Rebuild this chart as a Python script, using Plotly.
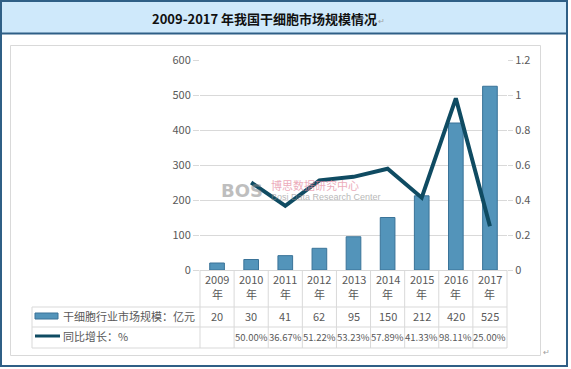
import plotly.graph_objects as go

# ---------------- data ----------------
years = ["2009", "2010", "2011", "2012", "2013", "2014", "2015", "2016", "2017"]
year_suffix = "年"
market_size = [20, 30, 41, 62, 95, 150, 212, 420, 525]          # 亿元
growth_pct = [None, 50.00, 36.67, 51.22, 53.23, 57.89, 41.33, 98.11, 25.00]  # %
bar_name = "干细胞行业市场规模：亿元"
line_name = "同比增长：%"
title_text = "2009-2017 年我国干细胞市场规模情况"

# ---------------- geometry helpers ----------------
W, H = 571, 369
L, R, T, B = 200, 507, 60, 270   # plot area in px


def px(x):
    return (x - L) / (R - L)


def py(y):
    return (B - y) / (B - T)


GREY_TXT = "#595959"
GRID = "#d9d9d9"
FONT = "Noto Sans CJK SC, Lato, sans-serif"

growth_ratio = [None if g is None else g / 100 for g in growth_pct]
growth_lbl = ["" if g is None else f"{g:.2f}%" for g in growth_pct]

fig = go.Figure()
fig.add_trace(go.Bar(
    x=years, y=market_size, name=bar_name,
    marker=dict(color="#5394ba", line=dict(color="#3a7398", width=1)),
    showlegend=False, hoverinfo="skip",
))
fig.add_trace(go.Scatter(
    x=years, y=growth_ratio, name=line_name, yaxis="y2", mode="lines",
    line=dict(color="#0f4b62", width=4), connectgaps=False,
    showlegend=False, hoverinfo="skip",
))

shapes = []
# outer frame + title band
shapes.append(dict(type="rect", xref="paper", yref="paper", layer="below",
                   x0=px(1), x1=px(567), y0=py(2), y1=py(33),
                   fillcolor="#cfe9fb", line=dict(width=0)))
shapes.append(dict(type="line", xref="paper", yref="paper", layer="below",
                   x0=px(1), x1=px(567), y0=py(33.5), y1=py(33.5),
                   line=dict(color="#2f5f86", width=2)))
shapes.append(dict(type="rect", xref="paper", yref="paper", layer="below",
                   x0=px(1), x1=px(567), y0=py(1), y1=py(366),
                   line=dict(color="#2f5f86", width=2)))
# inner chart frame
shapes.append(dict(type="rect", xref="paper", yref="paper", layer="below",
                   x0=px(10.5), x1=px(540.5), y0=py(45.5), y1=py(355.5),
                   line=dict(color=GRID, width=1)))

# data table grid
n = len(years)
row_tops = [270, 307, 327, 348]
for i in range(n + 1):
    xb = L + (R - L) * i / n
    shapes.append(dict(type="line", xref="paper", yref="paper",
                       x0=px(xb), x1=px(xb), y0=py(270), y1=py(348),
                       line=dict(color=GRID, width=1)))
for yb in row_tops[1:]:
    shapes.append(dict(type="line", xref="paper", yref="paper",
                       x0=px(32), x1=px(R), y0=py(yb), y1=py(yb),
                       line=dict(color=GRID, width=1)))
shapes.append(dict(type="line", xref="paper", yref="paper",
                   x0=px(32), x1=px(32), y0=py(307), y1=py(348),
                   line=dict(color=GRID, width=1)))
# legend swatches
shapes.append(dict(type="rect", xref="paper", yref="paper",
                   x0=px(35), x1=px(58), y0=py(313), y1=py(319),
                   fillcolor="#5394ba", line=dict(color="#3a7398", width=1)))
shapes.append(dict(type="line", xref="paper", yref="paper",
                   x0=px(35), x1=px(60), y0=py(336), y1=py(336),
                   line=dict(color="#0f4b62", width=3)))

annotations = []
# title
annotations.append(dict(xref="paper", yref="paper", x=px(264), y=py(18),
                        text="<b>" + title_text + "</b>", showarrow=False,
                        font=dict(family=FONT, size=13, color="#111111"),
                        xanchor="center", yanchor="middle"))
annotations.append(dict(xref="paper", yref="paper", x=px(376), y=py(20),
                        text="↵", showarrow=False,
                        font=dict(family=FONT, size=8, color="#a0a0a0"),
                        xanchor="left", yanchor="middle"))
annotations.append(dict(xref="paper", yref="paper", x=px(541), y=py(351),
                        text="↵", showarrow=False,
                        font=dict(family=FONT, size=8, color="#a0a0a0"),
                        xanchor="left", yanchor="middle"))
# legend labels
annotations.append(dict(xref="paper", yref="paper", x=px(61), y=py(316),
                        text=bar_name, showarrow=False,
                        font=dict(family=FONT, size=11, color=GREY_TXT),
                        xanchor="left", yanchor="middle"))
annotations.append(dict(xref="paper", yref="paper", x=px(61), y=py(336),
                        text=line_name, showarrow=False,
                        font=dict(family=FONT, size=11, color=GREY_TXT),
                        xanchor="left", yanchor="middle"))
# table header + values (x given as category index)
for i, (yr, v, g) in enumerate(zip(years, market_size, growth_lbl)):
    annotations.append(dict(xref="x", yref="paper", x=i, y=py(279),
                            text=yr, showarrow=False,
                            font=dict(family=FONT, size=11, color=GREY_TXT),
                            xanchor="center", yanchor="middle"))
    annotations.append(dict(xref="x", yref="paper", x=i, y=py(294),
                            text=year_suffix, showarrow=False,
                            font=dict(family=FONT, size=11, color=GREY_TXT),
                            xanchor="center", yanchor="middle"))
    annotations.append(dict(xref="x", yref="paper", x=i, y=py(316),
                            text=str(v), showarrow=False,
                            font=dict(family=FONT, size=11, color=GREY_TXT),
                            xanchor="center", yanchor="middle"))
    if g:
        annotations.append(dict(xref="x", yref="paper", x=i, y=py(337),
                                text=g, showarrow=False,
                                font=dict(family=FONT, size=9.5, color=GREY_TXT),
                                xanchor="center", yanchor="middle"))
# watermark
annotations.append(dict(xref="paper", yref="paper", x=px(219), y=py(190),
                        text="<b>BOS</b>", showarrow=False, opacity=0.55,
                        font=dict(family="DejaVu Sans", size=18, color="#8a8a8a"),
                        xanchor="left", yanchor="middle"))
annotations.append(dict(xref="paper", yref="paper", x=px(269), y=py(185),
                        text="博思数据研究中心", showarrow=False, opacity=0.7,
                        font=dict(family=FONT, size=11, color="#e58aa0"),
                        xanchor="left", yanchor="middle"))
annotations.append(dict(xref="paper", yref="paper", x=px(269), y=py(197),
                        text="Bosi Data Research Center", showarrow=False, opacity=0.6,
                        font=dict(family="Liberation Sans Narrow, Liberation Sans", size=9, color="#8a8a8a"),
                        xanchor="left", yanchor="middle"))

fig.update_layout(
    width=W, height=H, autosize=False,
    margin=dict(l=L, r=W - R, t=T, b=H - B, pad=0),
    paper_bgcolor="white", plot_bgcolor="white",
    bargap=0.57,
    font=dict(family=FONT, size=11, color=GREY_TXT),
    xaxis=dict(type="category", range=[-0.5, len(years) - 0.5],
               showticklabels=False,
               showline=True, linecolor=GRID, linewidth=1, ticks="", showgrid=False),
    yaxis=dict(range=[0, 600], dtick=100, showgrid=True, gridcolor=GRID, gridwidth=1,
               zeroline=False, ticks="outside", ticklen=6, tickcolor=GRID,
               tickfont=dict(family=FONT, size=11, color=GREY_TXT)),
    yaxis2=dict(range=[0, 1.2], dtick=0.2, overlaying="y", side="right", showgrid=False,
                zeroline=False, ticks="outside", ticklen=5, tickcolor=GRID,
                tickfont=dict(family=FONT, size=11, color=GREY_TXT)),
    shapes=shapes, annotations=annotations, showlegend=False,
)

fig.write_html("out.html", config={"displayModeBar": False, "staticPlot": True},
               post_script="document.body.style.margin='0';document.body.style.overflow='hidden';")
